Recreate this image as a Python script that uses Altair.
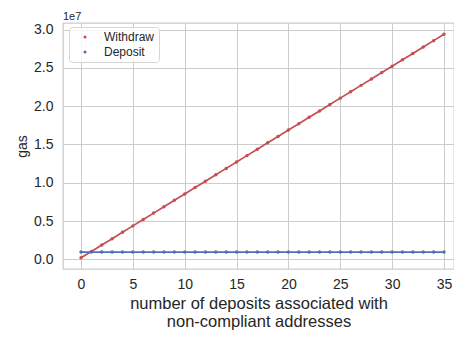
import altair as alt
import pandas as pd

deposits = list(range(36))
withdraw_gas = [200000, 1034000, 1868000, 2702000, 3536000, 4370000, 5204000, 6038000,
                6872000, 7706000, 8540000, 9374000, 10208000, 11042000, 11876000, 12710000,
                13544000, 14378000, 15212000, 16046000, 16880000, 17714000, 18548000, 19382000,
                20216000, 21050000, 21884000, 22718000, 23552000, 24386000, 25220000, 26054000,
                26888000, 27722000, 28556000, 29390000]
deposit_gas = [950000] * 36
series_names = ["Withdraw", "Deposit"]
series_colors = ["#c44e52", "#4c72b0"]
x_ticks = [0, 5, 10, 15, 20, 25, 30, 35]
y_ticks = [0, 5e6, 1e7, 1.5e7, 2e7, 2.5e7, 3e7]

df = pd.concat([
    pd.DataFrame({"n": deposits, "gas": withdraw_gas, "series": "Withdraw"}),
    pd.DataFrame({"n": deposits, "gas": deposit_gas, "series": "Deposit"}),
])

FONT = "Liberation Sans"
TXT = "#262626"

x_enc = alt.X("n:Q",
              scale=alt.Scale(domain=[-1.736, 35.965], nice=False, zero=False),
              axis=alt.Axis(values=x_ticks, title=["number of deposits associated with", "non-compliant addresses"],
                            labelPadding=8, titlePadding=4, titleFontSize=16.5, titleLineHeight=18))
y_enc = alt.Y("gas:Q",
              scale=alt.Scale(domain=[-1.26e6, 3.086e7], nice=False, zero=False),
              axis=alt.Axis(values=y_ticks, labelExpr="format(datum.value / 1e7, '.1f')",
                            title="gas", labelPadding=10, titlePadding=4, titleFontSize=14))
color_scale = alt.Scale(domain=series_names, range=series_colors)


def legend_def():
    return alt.Legend(title=None, orient="none", legendX=6, legendY=4,
                      symbolType="circle", symbolSize=10)


base = alt.Chart(df)
lines = base.mark_line(strokeWidth=1.7, clip=True).encode(
    x=x_enc, y=y_enc,
    color=alt.Color("series:N", scale=color_scale, legend=legend_def()),
)
points = base.mark_point(filled=True, size=12, opacity=1, clip=True).encode(
    x=x_enc, y=y_enc,
    color=alt.Color("series:N", scale=color_scale, legend=legend_def()),
)

chart = alt.layer(lines, points).properties(
    width=391, height=246,
    autosize=alt.AutoSizeParams(type="none"),
    padding={"left": 55, "top": 15, "right": 0, "bottom": 61},
    title=alt.TitleParams("1e7", anchor="start", frame="group", fontSize=11, font=FONT,
                          fontWeight="normal", color=TXT, offset=1),
).configure_view(
    stroke="#cccccc", strokeWidth=1.3
).configure_axis(
    grid=True, gridColor="#cccccc", gridWidth=1, domain=False, ticks=False,
    labelFont=FONT, labelFontSize=14, labelColor=TXT,
    titleFont=FONT, titleColor=TXT, titleFontWeight="normal",
).configure_legend(
    labelFont=FONT, labelFontSize=12, labelColor=TXT,
    padding=4, symbolOffset=6, labelOffset=13, rowPadding=3,
    strokeColor="#d5d5d5", fillColor="rgba(255,255,255,0.8)", cornerRadius=3,
    symbolStrokeWidth=0,
)

chart.save("out.html", embed_options={"renderer": "svg", "actions": False})
